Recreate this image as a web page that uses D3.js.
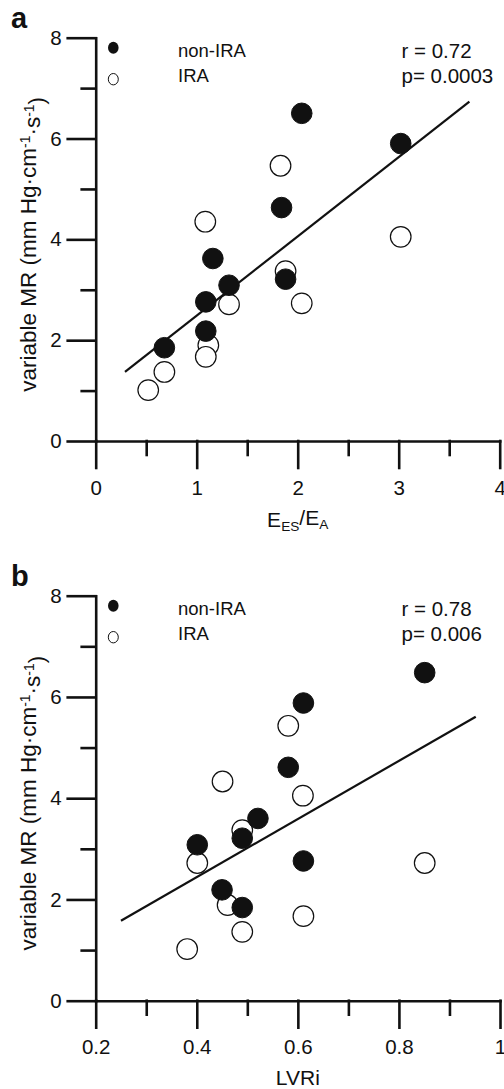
<!DOCTYPE html>
<html><head><meta charset="utf-8">
<script src="https://cdn.jsdelivr.net/npm/d3@7"></script>
<style>
body{margin:0;background:#fff}
svg{display:block}
text{font-family:"Liberation Sans",Arial,Helvetica,sans-serif;fill:#111}
</style>
</head><body>
<svg id="c" width="504" height="1089"></svg>
<script>
// ---- data ----
const yTicksMajor = [0, 2, 4, 6, 8];
const yTicksMinor = [1, 3, 5, 7];
const aXTicksMajor = [0, 1, 2, 3, 4];
const aXTicksMinor = [0.5, 1.5, 2.5, 3.5];
const bXTicksMajor = [0.2, 0.4, 0.6, 0.8, 1];
const bXTicksMinor = [0.3, 0.5, 0.7, 0.9];
const bXTickLabels = ["0.2", "0.4", "0.6", "0.8", "1"];

const aNonIRA = [[2.04,6.50],[3.02,5.90],[1.84,4.63],[1.16,3.62],[1.32,3.09],[1.88,3.21],[1.09,2.76],[1.09,2.18],[0.68,1.85]];
const aIRA = [[1.83,5.46],[1.085,4.35],[3.02,4.05],[1.88,3.37],[1.32,2.71],[2.04,2.73],[1.115,1.90],[1.09,1.67],[0.68,1.37],[0.52,1.01]];
const aFit = [[0.29,1.37],[3.70,6.73]];

const bNonIRA = [[0.851,6.48],[0.611,5.88],[0.581,4.61],[0.521,3.60],[0.490,3.21],[0.401,3.08],[0.611,2.76],[0.450,2.19],[0.490,1.84]];
const bIRA = [[0.581,5.43],[0.451,4.33],[0.610,4.05],[0.490,3.37],[0.401,2.72],[0.851,2.72],[0.461,1.89],[0.611,1.67],[0.490,1.36],[0.381,1.02]];
const bFit = [[0.25,1.58],[0.952,5.61]];

const legendLabels = ["non-IRA", "IRA"];
const aStats = ["r = 0.72", "p= 0.0003"];
const bStats = ["r = 0.78", "p= 0.006"];

// ---- drawing ----
const svg = d3.select("#c");

function drawPanel(cfg) {
  const g = svg.append("g");
  const x = d3.scaleLinear().domain(cfg.xDomain).range(cfg.xRange);
  const y = d3.scaleLinear().domain([0, 8]).range(cfg.yRange);
  const yTop = y(8), y0 = y(0);

  // minor ticks
  g.append("g").attr("transform", `translate(${x(cfg.xDomain[0])},0)`)
    .call(d3.axisLeft(y).tickValues(yTicksMinor).tickSize(14).tickSizeOuter(0).tickFormat(""))
    .call(s => s.select(".domain").remove());
  g.append("g").attr("transform", `translate(0,${y0})`)
    .call(d3.axisBottom(x).tickValues(cfg.xMinor).tickSize(14).tickSizeOuter(0).tickFormat(""))
    .call(s => s.select(".domain").remove());

  // major axes
  g.append("g").attr("transform", `translate(${x(cfg.xDomain[0])},0)`)
    .call(d3.axisLeft(y).tickValues(yTicksMajor).tickSize(28).tickSizeOuter(0).tickPadding(6).tickFormat(d3.format("d")));
  g.append("g").attr("transform", `translate(0,${y0})`)
    .call(d3.axisBottom(x).tickValues(cfg.xMajor).tickSize(27).tickSizeOuter(0).tickPadding(12).tickFormat(cfg.xFormat));
  g.selectAll(".domain, .tick line").attr("stroke", "#111").attr("stroke-width", 2.6).attr("stroke-linecap", "square");
  g.selectAll(".tick text").attr("font-size", 20.5).attr("fill", "#111")
    .style("font-family", '"Liberation Sans",Arial,sans-serif');

  // fit line
  g.append("path").datum(cfg.fit)
    .attr("d", d3.line().x(d => x(d[0])).y(d => y(d[1])))
    .attr("stroke", "#111").attr("stroke-width", 2.2).attr("fill", "none");

  // points: IRA (open) then non-IRA (filled)
  g.selectAll("circle.ira").data(cfg.ira).join("circle").attr("class", "ira")
    .attr("cx", d => x(d[0])).attr("cy", d => y(d[1])).attr("r", 10.3)
    .attr("fill", "#fff").attr("stroke", "#111").attr("stroke-width", 1.2);
  g.selectAll("circle.non").data(cfg.non).join("circle").attr("class", "non")
    .attr("cx", d => x(d[0])).attr("cy", d => y(d[1])).attr("r", 10.3)
    .attr("fill", "#111").attr("stroke", "#111").attr("stroke-width", 1);

  // panel letter
  g.append("text").attr("x", 11).attr("y", yTop - 9.5)
    .attr("font-size", 29).attr("font-weight", "bold").text(cfg.letter);

  // legend
  g.append("ellipse").attr("cx", 113.3).attr("cy", yTop + 10).attr("rx", 5.3).attr("ry", 6)
    .attr("fill", "#111");
  g.append("ellipse").attr("cx", 113.3).attr("cy", yTop + 41.5).attr("rx", 5).attr("ry", 5.7)
    .attr("fill", "#fff").attr("stroke", "#111").attr("stroke-width", 1);
  g.append("text").attr("x", 178).attr("y", yTop + 19.5).attr("font-size", 18.5).text(legendLabels[0]);
  g.append("text").attr("x", 178).attr("y", yTop + 44.5).attr("font-size", 18.5).text(legendLabels[1]);

  // stats
  g.append("text").attr("x", 401.5).attr("y", yTop + 20.6).attr("font-size", 20.5).text(cfg.stats[0]);
  g.append("text").attr("x", 401.5).attr("y", yTop + 45.6).attr("font-size", 20.5).text(cfg.stats[1]);

  // y title
  const yc = (yTop + y0) / 2 + 5;
  const yt = g.append("text").attr("transform", `translate(36,${yc}) rotate(-90)`)
    .attr("text-anchor", "middle").attr("font-size", 22.5);
  yt.append("tspan").text("variable MR (mm Hg·cm");
  yt.append("tspan").attr("dy", "-0.45em").attr("font-size", "0.62em").text("-1");
  yt.append("tspan").attr("dy", "0.45em").text("·s");
  yt.append("tspan").attr("dy", "-0.45em").attr("font-size", "0.62em").text("-1");
  yt.append("tspan").attr("dy", "0.45em").text(")");

  // x title
  const xt = g.append("text").attr("x", (cfg.xRange[0] + cfg.xRange[1]) / 2).attr("y", y0 + cfg.xTitleOffset)
    .attr("text-anchor", "middle").attr("font-size", 21);
  cfg.xTitle(xt);
}

drawPanel({
  letter: "a", xDomain: [0, 4], xRange: [95.7, 499.7], yRange: [441, 37.7],
  xMajor: aXTicksMajor, xMinor: aXTicksMinor, xFormat: d3.format("d"),
  non: aNonIRA, ira: aIRA, fit: aFit, stats: aStats, xTitleOffset: 86,
  xTitle: t => {
    t.append("tspan").text("E");
    t.append("tspan").attr("dy", "0.3em").attr("font-size", "0.65em").text("ES");
    t.append("tspan").attr("dy", "-0.3em").text("/E");
    t.append("tspan").attr("dy", "0.3em").attr("font-size", "0.65em").text("A");
  }
});

drawPanel({
  letter: "b", xDomain: [0.2, 1], xRange: [95.7, 500], yRange: [1000.7, 595.7],
  xMajor: bXTicksMajor, xMinor: bXTicksMinor, xFormat: (d, i) => bXTickLabels[i],
  non: bNonIRA, ira: bIRA, fit: bFit, stats: bStats, xTitleOffset: 84,
  xTitle: t => { t.text("LVRi"); }
});
</script>
</body></html>
